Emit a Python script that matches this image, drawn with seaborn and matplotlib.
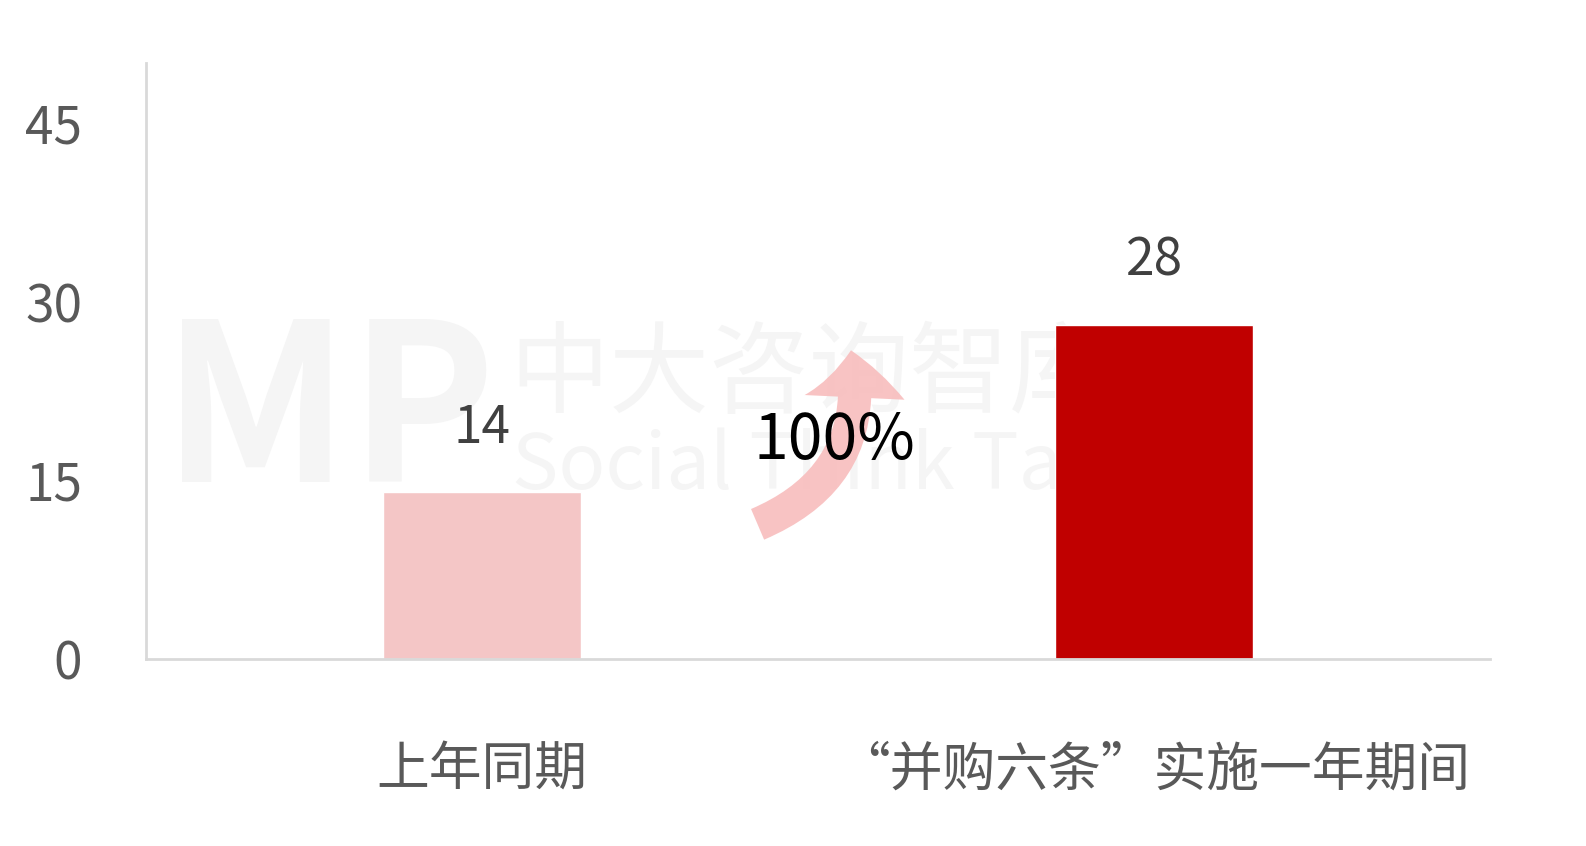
import matplotlib
matplotlib.use("Agg")
import matplotlib.pyplot as plt
import seaborn as sns
import pandas as pd
from matplotlib.patches import FancyArrowPatch

# data
categories = ["上年同期", "“并购六条”实施一年期间"]
values = [14, 28]
bar_colors = ["#F4C6C6", "#C00000"]
yticks = [0, 15, 30, 45]
growth_label = "100%"

df = pd.DataFrame({"period": categories, "count": values})

sns.set_theme(style="white")
plt.rcParams['font.family'] = ['Noto Sans CJK SC', 'DejaVu Sans']

fig = plt.figure(figsize=(15.86, 8.46), dpi=100)
ax = fig.add_axes([0.0921, 0.221, 0.8474, 0.7045])

sns.barplot(data=df, x="period", y="count", hue="period", palette=bar_colors,
            width=0.295, saturation=1, legend=False, ax=ax, zorder=2)

ax.set_xlim(-0.5, 1.5)
ax.set_ylim(0, 50)
ax.set_yticks(yticks)
ax.set_xlabel("")
ax.set_ylabel("")

#axes styling: light gray left and bottom lines only
for side in ["top", "right"]:
    ax.spines[side].set_visible(False)
for side in ["left", "bottom"]:
    ax.spines[side].set_color("#D9D9D9")
    ax.spines[side].set_linewidth(2)

ax.tick_params(axis="y", direction="in", length=20, width=2, color="#D9D9D9",
               labelsize=37, labelcolor="#595959", pad=46)
ax.tick_params(axis="x", length=0, labelsize=38, labelcolor="#595959", pad=60)

#value labels on bars
for i, v in enumerate(values):
    ax.text(i, v + 5.4, str(v), ha="center", va="center", fontsize=37, color="#404040")

#faint watermark
wm = "#F5F5F5"
ax.text(0.012, 0.405, "MP", transform=ax.transAxes, fontsize=158, fontweight="black",
        color=wm, ha="left", va="center", zorder=0)
ax.text(0.27, 0.475, "中大咨询智库", transform=ax.transAxes, fontsize=72,
        color=wm, ha="left", va="center", zorder=0)
ax.text(0.272, 0.322, "Social Think Tank", transform=ax.transAxes, fontsize=56,
        fontweight="light", color=wm, ha="left", va="center", zorder=0)

#curved growth arrow
arrow = FancyArrowPatch((0.41, 11.3), (0.549, 25.9),
                        connectionstyle="arc3,rad=0.4",
                        arrowstyle="simple,head_width=3.6,head_length=1.7,tail_width=1.2",
                        mutation_scale=20, shrinkA=0, shrinkB=0,
                        color="#F8BDBD", alpha=0.9, lw=0, zorder=3)
ax.add_patch(arrow)
ax.text(0.525, 18.3, growth_label, ha="center", va="center", fontsize=45,
        color="#000000", zorder=4)

fig.savefig("out.png", dpi=100)
